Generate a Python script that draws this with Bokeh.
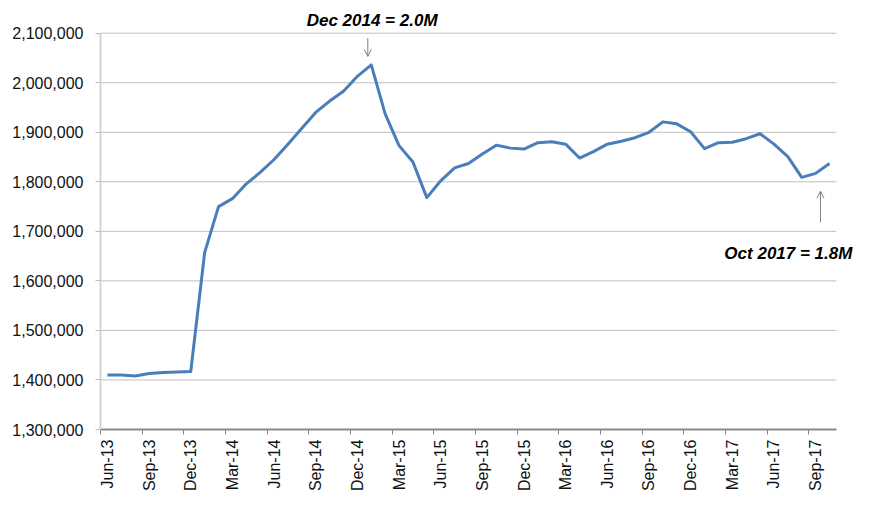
import math
from bokeh.plotting import figure
from bokeh.models import (FixedTicker, NumeralTickFormatter, Label,
                          Arrow, OpenHead, Range1d)
from bokeh.embed import file_html
from bokeh.resources import INLINE

# ---- data (monthly, Jun-13 .. Oct-17) ----
month_index = list(range(53))
values = [
    1410000, 1410000, 1408000, 1413000, 1415000, 1416000, 1417000,          # Jun-13..Dec-13
    1657000, 1750000, 1766000, 1796000, 1819000, 1845000,                    # Jan-14..Jun-14
    1876000, 1908000, 1940000, 1963000, 1983000, 2013000,                    # Jul-14..Dec-14
    2036000, 1937000, 1873000, 1840000, 1768000, 1802000,                    # Jan-15..Jun-15
    1828000, 1837000, 1856000, 1874000, 1868000, 1866000,                    # Jul-15..Dec-15
    1879000, 1881000, 1876000, 1848000, 1861000, 1876000,                    # Jan-16..Jun-16
    1882000, 1889000, 1900000, 1921000, 1917000, 1901000,                    # Jul-16..Dec-16
    1867000, 1879000, 1880000, 1887000, 1897000, 1876000,                    # Jan-17..Jun-17
    1851000, 1809000, 1817000, 1837000,                                      # Jul-17..Oct-17
]
tick_labels = ["Jun-13", "Sep-13", "Dec-13", "Mar-14", "Jun-14", "Sep-14",
               "Dec-14", "Mar-15", "Jun-15", "Sep-15", "Dec-15", "Mar-16",
               "Jun-16", "Sep-16", "Dec-16", "Mar-17", "Jun-17", "Sep-17"]
label_positions = [3 * k for k in range(len(tick_labels))]
y_ticks = [1300000, 1400000, 1500000, 1600000, 1700000, 1800000,
           1900000, 2000000, 2100000]
note_peak = "Dec 2014  = 2.0M"
note_last = "Oct 2017 = 1.8M"

FONT = "Liberation Sans"
X_FIRST, X_LAST = -0.5, 52.5          # category band edges
Y_MIN, Y_MAX = y_ticks[0], y_ticks[-1]

p = figure(width=854, height=494, output_backend="svg", toolbar_location=None,
           title=None,
           x_range=Range1d(X_FIRST, 53.8), y_range=Range1d(Y_MIN, 2166000),
           min_border_left=100, min_border_right=0, min_border_top=0,
           min_border_bottom=62)
p.outline_line_color = None
p.background_fill_color = "white"
p.border_fill_color = "white"

# grid (drawn as segments so it stops at the last category)
p.xgrid.grid_line_color = None
p.ygrid.grid_line_color = None
grid_levels = [v for v in y_ticks if v > Y_MIN]
p.segment(x0=[X_FIRST] * len(grid_levels), x1=[X_LAST] * len(grid_levels),
          y0=grid_levels, y1=grid_levels, line_color="#c0c0c0", line_width=1)

# y axis
ya = p.yaxis[0]
ya.ticker = FixedTicker(ticks=y_ticks)
ya.bounds = (Y_MIN, Y_MAX)
ya.formatter = NumeralTickFormatter(format="0,0")
ya.axis_line_color = "#d4d4d4"
ya.axis_line_width = 2
ya.major_tick_line_color = "#bcbcbc"
ya.major_tick_out = 5
ya.major_tick_in = 0
ya.minor_tick_line_color = None
ya.major_label_standoff = 12
ya.major_label_text_font = FONT
ya.major_label_text_font_size = "16px"
ya.major_label_text_color = "#111111"

# x axis: labels centred on categories, tick marks at category boundaries
xa = p.xaxis[0]
xa.ticker = FixedTicker(ticks=label_positions,
                        minor_ticks=[pos - 0.5 for pos in label_positions])
xa.bounds = (X_FIRST, X_LAST)
xa.major_label_overrides = {pos: lab for pos, lab in zip(label_positions, tick_labels)}
xa.axis_line_color = "#888888"
xa.axis_line_width = 2
xa.major_tick_line_color = None
xa.major_tick_out = 5
xa.major_tick_in = 0
xa.minor_tick_line_color = "#888888"
xa.minor_tick_line_width = 1
xa.minor_tick_out = 5
xa.minor_tick_in = 0
xa.major_label_orientation = math.pi / 2
xa.major_label_standoff = 5
xa.major_label_text_font = FONT
xa.major_label_text_font_size = "16px"
xa.major_label_text_color = "#111111"

# series
p.line(month_index, values, line_color="#4a7ebb", line_width=3, line_join="round")

# annotations
p.add_layout(Label(x=19.23, y=2126000, text=note_peak, text_font=FONT,
                   text_font_size="17px", text_font_style="bold italic",
                   text_align="center", text_baseline="middle", text_color="#000000"))
p.add_layout(Label(x=53.65, y=1655000, text=note_last, text_font=FONT,
                   text_font_size="17px", text_font_style="bold italic",
                   text_align="right", text_baseline="middle", text_color="#000000"))
p.add_layout(Arrow(end=OpenHead(size=7, line_color="#808080", line_width=1),
                   x_start=18.75, y_start=2090000, x_end=18.75, y_end=2053000,
                   line_color="#808080", line_width=1))
p.add_layout(Arrow(end=OpenHead(size=7, line_color="#808080", line_width=1),
                   x_start=51.35, y_start=1718000, x_end=51.35, y_end=1781000,
                   line_color="#808080", line_width=1))

open("out.html", "w").write(file_html(p, INLINE))
